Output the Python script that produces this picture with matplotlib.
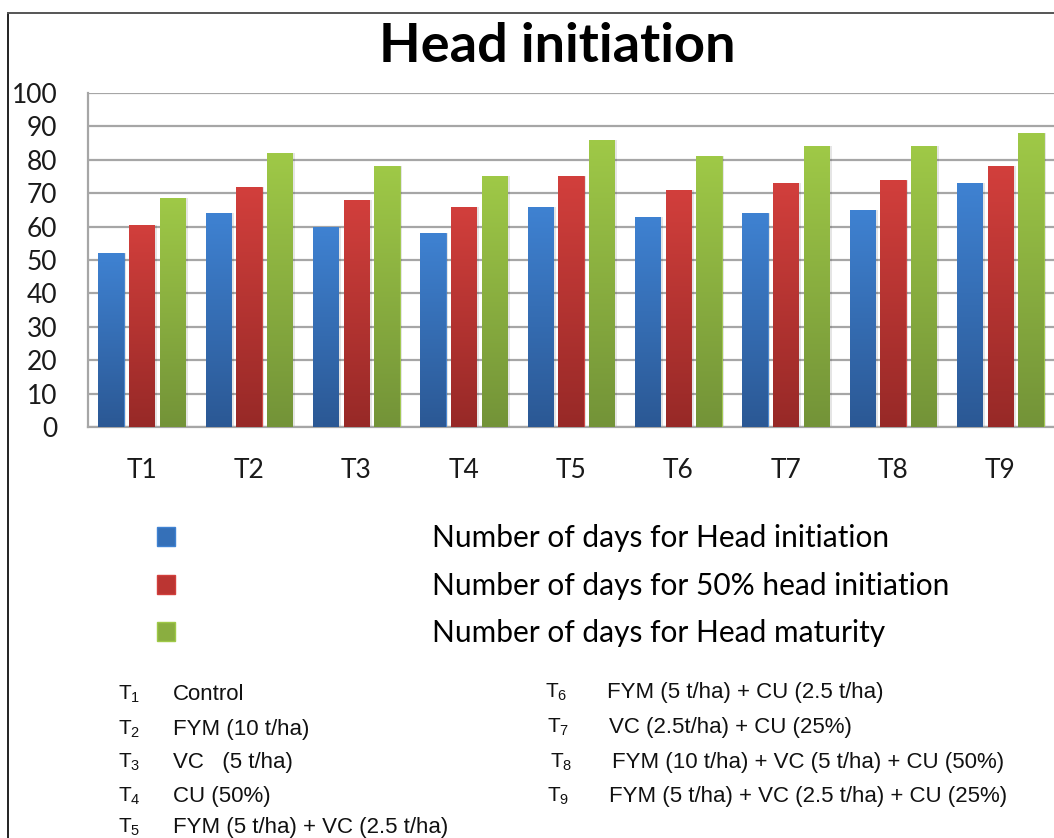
import numpy as np
import matplotlib
matplotlib.use("Agg")
import matplotlib.pyplot as plt
from matplotlib.patches import Patch
from matplotlib.colors import LinearSegmentedColormap

# ---------------- data ----------------
treatments = ["T1", "T2", "T3", "T4", "T5", "T6", "T7", "T8", "T9"]
head_initiation = [52, 64, 60, 58, 66, 63, 64, 65, 73]
head_initiation_50 = [60.5, 72, 68, 66, 75, 71, 73, 74, 78]
head_maturity = [68.5, 82, 78, 75, 86, 81, 84, 84, 88]
series_labels = ["Number of days for Head initiation",
                 "Number of days for 50% head initiation",
                 "Number of days for Head maturity"]
yticks = [0, 10, 20, 30, 40, 50, 60, 70, 80, 90, 100]
treat_subs = ["1", "2", "3", "4", "5", "6", "7", "8", "9"]
treat_desc = ["Control", "FYM (10 t/ha)", "VC   (5 t/ha)", "CU (50%)",
              "FYM (5 t/ha) + VC (2.5 t/ha)", "FYM (5 t/ha) + CU (2.5 t/ha)",
              "VC (2.5t/ha) + CU (25%)", "FYM (10 t/ha) + VC (5 t/ha) + CU (50%)",
              "FYM (5 t/ha) + VC (2.5 t/ha) + CU (25%)"]

# colour gradients (top, bottom)
grads = [("#3f82d2", "#2b5894"), ("#d23f3c", "#972927"), ("#9fc947", "#739338")]
mids = ["#3570b8", "#bb3532", "#8aae40"]

W, H = 1054, 838
fig = plt.figure(figsize=(W / 100, H / 100), dpi=100)
plt.rcParams['mathtext.fontset'] = 'custom'
plt.rcParams['mathtext.rm'] = 'Liberation Sans'
plt.rcParams['mathtext.it'] = 'Liberation Sans'

def fx(px):
    return px / W

def fy(py):
    return 1 - py / H

ax = fig.add_axes([fx(88), fy(427), fx(1054) - fx(88), fy(93) - fy(427)])

x = np.arange(len(treatments))
bw = 0.235
step = 0.285
all_series = [head_initiation, head_initiation_50, head_maturity]
for i, vals in enumerate(all_series):
    xs = x + (i - 1) * step
    # soft shadow
    ax.bar(xs + 0.025, vals, width=bw, color="#000000", alpha=0.10, zorder=2,
           linewidth=0)
    bars = ax.bar(xs, vals, width=bw, color=mids[i], zorder=3, linewidth=0.6,
                  edgecolor=grads[i][0])
    cmap = LinearSegmentedColormap.from_list("g%d" % i, [grads[i][1], grads[i][0]])
    grad = np.linspace(0, 1, 256).reshape(-1, 1)
    for b in bars:
        x0 = b.get_x()
        im = ax.imshow(grad, cmap=cmap, aspect="auto", origin="lower",
                       extent=[x0, x0 + b.get_width(), 0, b.get_height()],
                       zorder=4, interpolation="bilinear")
        im.set_clip_path(b)
ax.set_xlim(-0.5, len(treatments) - 0.5)
ax.set_ylim(0, 100)

ax.set_yticks(yticks)
ax.set_xticks(x)
ax.set_xticklabels(treatments)
ax.yaxis.grid(True, color="#a6a6a6", linewidth=1.6, zorder=0)
ax.set_axisbelow(True)
for s in ["top", "right"]:
    ax.spines[s].set_visible(False)
ax.spines["left"].set_color("#a6a6a6")
ax.spines["left"].set_linewidth(1.6)
ax.spines["bottom"].set_color("#a6a6a6")
ax.spines["bottom"].set_linewidth(1.6)
ax.tick_params(axis="both", length=0, labelsize=19, colors="#1a1a1a")
ax.tick_params(axis="y", pad=22)
ax.tick_params(axis="x", pad=22)
for lab in ax.get_xticklabels() + ax.get_yticklabels():
    lab.set_family("Lato")

# title
fig.text(fx(557), fy(47), "Head initiation", ha="center", va="center",
         fontsize=39, fontweight="bold", family="Lato", color="#000000")

# legend
handles = [Patch(facecolor=mids[i], edgecolor=grads[i][0]) for i in range(3)]
leg = fig.legend(handles, series_labels, loc="upper left",
                 bbox_to_anchor=(fx(157), fy(524)), frameon=False,
                 prop={"family": "Lato", "size": 21.5},
                 handlelength=0.6, handleheight=0.6, handletextpad=8.6,
                 labelspacing=0.66, borderpad=0, borderaxespad=0)

# treatment key
left_rows = [694, 729, 762, 796, 827]
right_rows = [692, 727, 762, 796]
left_T = [118, 118, 118, 118, 118]
left_txt = [173, 173, 173, 173, 173]
right_T = [545, 547, 550, 547]
right_txt = [607, 609, 612, 609]
for k in range(9):
    if k < 5:
        tx, dx, yy = left_T[k], left_txt[k], left_rows[k]
    else:
        tx, dx, yy = right_T[k - 5], right_txt[k - 5], right_rows[k - 5]
    fig.text(fx(tx), fy(yy), "T$_{%s}$" % treat_subs[k], ha="left", va="center",
             fontsize=15, family="Liberation Sans", color="#111111")
    fig.text(fx(dx), fy(yy), treat_desc[k], ha="left", va="center",
             fontsize=16, family="Liberation Sans", color="#111111")

# outer frame lines
fig.add_artist(plt.Line2D([fx(8), fx(8)], [0, fy(13)], color="#222222", lw=1.4))
fig.add_artist(plt.Line2D([fx(8), 1], [fy(13), fy(13)], color="#555555", lw=1.4))

fig.savefig("out.png", dpi=100)
